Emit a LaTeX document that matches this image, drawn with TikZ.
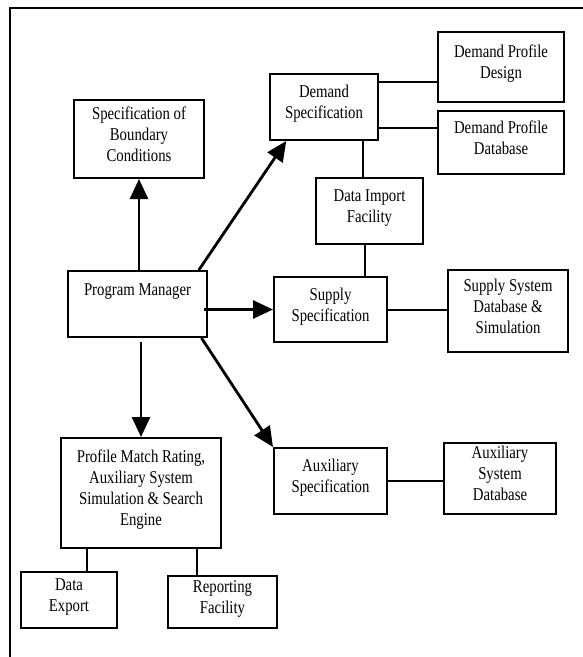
\documentclass[tikz,border=0pt]{standalone}
\usepackage{fontspec}
\setmainfont{Liberation Serif}[FakeStretch=0.82]
\usepackage{tikz}
\usetikzlibrary{arrows.meta}
\tikzstyle{rec} = [rectangle, draw=black, line width=2pt, align=center, text centered, text depth=10pt, font=\fontsize{18}{21}\selectfont, inner sep=0pt]
\tikzstyle{arrow} = [line width=2.8pt, -{Triangle[length=20pt, width=18pt]}]
\tikzstyle{link} = [line width=2pt]

\begin{document}
\begin{tikzpicture}[x=1pt, y=-1pt]
		\useasboundingbox (0,0) rectangle (583,657);
		% frame
		\draw [line width=2pt] (10,657) -- (10,8) -- (583,8);
		% boxes
		\node (pm) [rec, minimum width=139pt, minimum height=66pt, label={[anchor=north, yshift=-10pt, font=\fontsize{18}{21}\selectfont]north:Program Manager}] at (137.5,304) {};
		\node (bound) [rec, minimum width=130pt, minimum height=78pt] at (139,139) {Specification of\\Boundary\\Conditions};
		\node (dspec) [rec, minimum width=108pt, minimum height=66pt] at (324,107) {Demand\\Specification};
		\node (dpdes) [rec, minimum width=126pt, minimum height=70pt] at (501,67) {Demand Profile\\Design};
		\node (dpdb) [rec, minimum width=126pt, minimum height=63pt] at (501,142.5) {Demand Profile\\Database};
		\node (dimport) [rec, minimum width=107pt, minimum height=66pt] at (369.5,211) {Data Import\\Facility};
		\node (sspec) [rec, minimum width=113pt, minimum height=65pt] at (330.5,309.5) {Supply\\Specification};
		\node (ssdb) [rec, minimum width=120pt, minimum height=82pt] at (508,311) {Supply System\\Database \&\\Simulation};
		\node (match) [rec, minimum width=160pt, minimum height=110pt] at (141,493) {Profile Match Rating,\\Auxiliary System\\Simulation \& Search\\Engine};
		\node (aspec) [rec, minimum width=113pt, minimum height=66pt] at (330.5,481) {Auxiliary\\Specification};
		\node (adb) [rec, minimum width=112pt, minimum height=71pt] at (500,478.5) {Auxiliary\\System\\Database};
		\node (dexport) [rec, minimum width=96pt, minimum height=56pt] at (69,600) {Data\\Export};
		\node (report) [rec, minimum width=109pt, minimum height=52pt] at (222.5,602) {Reporting\\Facility};
		% arrows from the manager
		\draw [arrow] (pm.north -| bound.south) -- (bound.south);
		\draw [arrow] (pm.29) -- (dspec.222);
		\draw [arrow] ([xshift=-4pt]pm.east |- sspec.west) -- (sspec.west);
		\draw [arrow] ([yshift=-4pt]pm.south -| match.north) -- (match.north);
		\draw [arrow] (pm.-28) -- (aspec.north west);
		% plain links
		\draw [link] ([yshift=25pt]dspec.east) -- ([yshift=25pt]dspec.east -| dpdes.west);
		\draw [link] ([yshift=-21pt]dspec.east) -- ([yshift=-21pt]dspec.east -| dpdb.west);
		\draw [link] ([xshift=-7pt]dimport.north) -- ([xshift=-7pt]dimport.north |- dspec.south);
		\draw [link] ([xshift=-5pt]dimport.south) -- ([xshift=-5pt]dimport.south |- sspec.north);
		\draw [link] (sspec.east) -- (sspec.east -| ssdb.west);
		\draw [link] (aspec.east) -- (aspec.east -| adb.west);
		\draw [link] ([xshift=18pt]dexport.north) -- ([xshift=18pt]dexport.north |- match.south);
		\draw [link] ([xshift=-26pt]report.north) -- ([xshift=-26pt]report.north |- match.south);
\end{tikzpicture}
\end{document}
